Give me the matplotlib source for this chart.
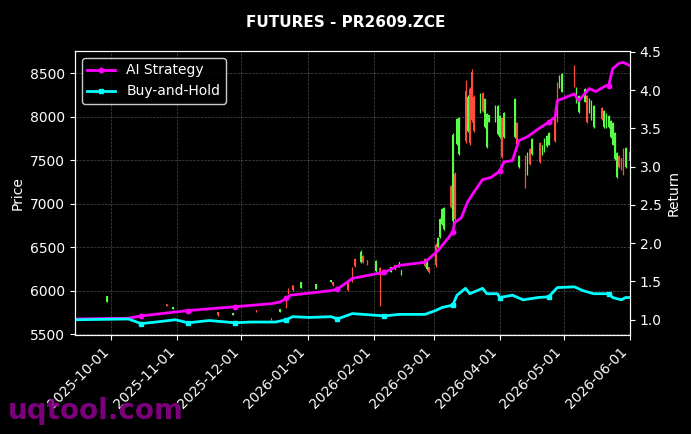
import matplotlib
matplotlib.use("Agg")
import matplotlib.pyplot as plt
import matplotlib.dates as mdates
import pandas as pd

# daily candles (only the days that show on the chart)
candle_dates = [
    "2025-09-29", "2025-10-27", "2025-10-30", "2025-11-20", "2025-11-27",
    "2025-12-08", "2025-12-15", "2025-12-19", "2025-12-22", "2025-12-23",
    "2025-12-25", "2025-12-29", "2026-01-05", "2026-01-12", "2026-01-13",
    "2026-01-20", "2026-01-22", "2026-01-23", "2026-01-26", "2026-01-27",
    "2026-01-29", "2026-02-02", "2026-02-04", "2026-02-05", "2026-02-09",
    "2026-02-11", "2026-02-13", "2026-02-14", "2026-02-25", "2026-02-26",
    "2026-02-27", "2026-03-02", "2026-03-03", "2026-03-04", "2026-03-05",
    "2026-03-06", "2026-03-09", "2026-03-10", "2026-03-11", "2026-03-12",
    "2026-03-13", "2026-03-16", "2026-03-17", "2026-03-18", "2026-03-19",
    "2026-03-20", "2026-03-23", "2026-03-24", "2026-03-25", "2026-03-26",
    "2026-03-27", "2026-03-30", "2026-03-31", "2026-04-01", "2026-04-02",
    "2026-04-03", "2026-04-08", "2026-04-09", "2026-04-10", "2026-04-13",
    "2026-04-14", "2026-04-15", "2026-04-16", "2026-04-20", "2026-04-21",
    "2026-04-22", "2026-04-23", "2026-04-24", "2026-04-27", "2026-04-28",
    "2026-04-29", "2026-04-30", "2026-05-06", "2026-05-07", "2026-05-08",
    "2026-05-11", "2026-05-12", "2026-05-13", "2026-05-14", "2026-05-15",
    "2026-05-19", "2026-05-20", "2026-05-21", "2026-05-22", "2026-05-23",
    "2026-05-24", "2026-05-25", "2026-05-26", "2026-05-27", "2026-05-28",
    "2026-05-29", "2026-05-30", "2026-06-01",
]
candle_open = [
    5875, 5845, 5795, 5750, 5725, 5777, 5685, 5760, 5880, 6025,
    6060, 6035, 6025, 6103, 6098, 6090, 6265, 6370, 6330, 6400,
    6350, 6225, 6260, 6235, 6220, 6292, 6278, 6185, 6370, 6245,
    6268, 6530, 6500, 6615, 6765, 6710, 7200, 6800, 7340, 7690,
    7575, 8300, 7840, 8320, 8520, 8230, 8050, 8270, 7880, 7650,
    7945, 7950, 7800, 7765, 7980, 7765, 7765, 7930, 7420, 7550,
    7340, 7630, 7570, 7700, 7565, 7600, 7660, 7680, 8000, 8380,
    8335, 8290, 8580, 8165, 8050, 8175, 8240, 8050, 7970, 7880,
    8100, 7880, 7880, 7880, 7765, 7680, 7510, 7305, 7550, 7520,
    7630, 7420, 7600,
]
candle_high = [
    5940, 5850, 5814, 5756, 5745, 5779, 5687, 5790, 5894, 6032,
    6066, 6101, 6078, 6124, 6101, 6101, 6273, 6377, 6469, 6411,
    6354, 6354, 6273, 6239, 6273, 6296, 6331, 6239, 6377, 6354,
    6273, 6549, 6618, 6836, 6951, 6963, 7215, 7812, 7364, 7985,
    7996, 8422, 8250, 8342, 8548, 8250, 8273, 8284, 8215, 8043,
    8020, 8135, 8135, 8020, 7996, 8054, 8215, 7939, 7560, 7560,
    7595, 7641, 7755, 7710, 7675, 7755, 7790, 7825, 8020, 8399,
    8479, 8503, 8594, 8342, 8250, 8330, 8250, 8215, 8192, 8135,
    8112, 8077, 8043, 8020, 7962, 7939, 7824, 7595, 7560, 7530,
    7641, 7652, 7620,
]
candle_low = [
    5870, 5822, 5791, 5710, 5722, 5756, 5664, 5756, 5802, 5963,
    5998, 6032, 6020, 6101, 6055, 5998, 6101, 6273, 6319, 6319,
    6296, 6216, 5825, 6181, 6216, 6239, 6273, 6181, 6273, 6239,
    6204, 6273, 6492, 6607, 6756, 6698, 6951, 6720, 6790, 7675,
    7560, 7698, 7825, 7675, 7939, 7825, 8043, 8054, 7870, 7640,
    7939, 7939, 7790, 7755, 7525, 7755, 7755, 7675, 7411, 7181,
    7330, 7445, 7560, 7468, 7560, 7595, 7652, 7675, 7710, 7939,
    8330, 8284, 8342, 8158, 8043, 8169, 7927, 8043, 7962, 7870,
    7962, 7870, 7870, 7870, 7755, 7675, 7502, 7296, 7411, 7390,
    7330, 7411, 7480,
]
candle_close = [
    5935, 5828, 5810, 5720, 5742, 5760, 5668, 5787, 5810, 5970,
    6005, 6095, 6072, 6122, 6060, 6010, 6110, 6280, 6450, 6330,
    6300, 6345, 6180, 6185, 6268, 6245, 6325, 6235, 6280, 6348,
    6210, 6290, 6610, 6825, 6940, 6950, 6965, 7790, 6820, 7970,
    7980, 7720, 8230, 7700, 7960, 7840, 8265, 8065, 8200, 8030,
    8015, 8125, 8120, 8010, 7540, 8045, 8200, 7690, 7550, 7250,
    7585, 7455, 7745, 7480, 7670, 7745, 7780, 7815, 7725, 7960,
    8470, 8495, 8350, 8335, 8240, 8320, 7940, 8205, 8180, 8125,
    7975, 8065, 8035, 8010, 7950, 7925, 7810, 7585, 7420, 7400,
    7345, 7640, 7495,
]

# cumulative returns (right axis)
ai_dates = [
    "2025-09-15", "2025-10-09", "2025-10-15", "2025-11-06", "2025-11-28",
    "2025-12-15", "2025-12-19", "2025-12-22", "2025-12-24", "2026-01-12",
    "2026-01-15", "2026-01-22", "2026-02-06", "2026-02-13", "2026-02-25",
    "2026-03-03", "2026-03-08", "2026-03-10", "2026-03-11", "2026-03-14",
    "2026-03-17", "2026-03-20", "2026-03-24", "2026-03-28", "2026-04-01",
    "2026-04-03", "2026-04-07", "2026-04-10", "2026-04-14", "2026-04-19",
    "2026-04-24", "2026-04-27", "2026-04-28", "2026-05-06", "2026-05-08",
    "2026-05-13", "2026-05-16", "2026-05-21", "2026-05-22", "2026-05-24",
    "2026-05-27", "2026-05-29", "2026-06-01",
]
ai_values = [
    1.01, 1.02, 1.05, 1.12, 1.17, 1.21, 1.23, 1.28, 1.32, 1.38,
    1.40, 1.54, 1.62, 1.71, 1.75, 1.90, 2.07, 2.15, 2.27, 2.33,
    2.54, 2.67, 2.83, 2.86, 2.94, 3.06, 3.08, 3.34, 3.39, 3.49,
    3.58, 3.65, 3.86, 3.95, 3.86, 4.02, 3.98, 4.06, 4.05, 4.28,
    4.35, 4.36, 4.32,
]
bh_dates = [
    "2025-09-15", "2025-10-09", "2025-10-15", "2025-10-22", "2025-10-31",
    "2025-11-06", "2025-11-16", "2025-11-28", "2025-12-05", "2025-12-17",
    "2025-12-22", "2025-12-25", "2026-01-02", "2026-01-12", "2026-01-15",
    "2026-01-22", "2026-02-06", "2026-02-13", "2026-02-25", "2026-03-02",
    "2026-03-05", "2026-03-10", "2026-03-12", "2026-03-16", "2026-03-18",
    "2026-03-24", "2026-03-26", "2026-03-31", "2026-04-01", "2026-04-07",
    "2026-04-12", "2026-04-19", "2026-04-24", "2026-04-28", "2026-05-06",
    "2026-05-10", "2026-05-15", "2026-05-22", "2026-05-24", "2026-05-28",
    "2026-05-30", "2026-06-01",
]
bh_values = [
    1.00, 1.01, 0.95, 0.97, 1.00, 0.96, 0.99, 0.96, 0.97, 0.97,
    1.00, 1.04, 1.03, 1.04, 1.01, 1.08, 1.05, 1.07, 1.07, 1.12,
    1.16, 1.19, 1.32, 1.41, 1.34, 1.41, 1.34, 1.34, 1.29, 1.32,
    1.26, 1.29, 1.30, 1.42, 1.43, 1.38, 1.34, 1.34, 1.29, 1.26,
    1.29, 1.29,
]
marker_dates = [
    "2025-10-15", "2025-11-06", "2025-11-28", "2025-12-22", "2026-01-15",
    "2026-02-06", "2026-03-10", "2026-04-01", "2026-04-24", "2026-05-22",
]

up_color = "#55ff44"
down_color = "#ff4d3d"

fig = plt.figure(figsize=(6.91, 4.34), dpi=100, facecolor="black")
ax = fig.add_axes([0.1085, 0.228, 0.803, 0.6545], facecolor="black")

cd = pd.to_datetime(candle_dates)
for d, o, h, l, c in zip(cd, candle_open, candle_high, candle_low, candle_close):
    col = up_color if c >= o else down_color
    ax.vlines(d, l, h, color=col, linewidth=0.9)
    ax.bar(d, abs(c - o), bottom=min(o, c), width=0.7, color=col, linewidth=0)

ax.set_ylim(5490, 8756)
ax.set_ylabel("Price", color="white")
ax.grid(True, color="gray", linestyle="--", linewidth=0.5, alpha=0.6)

ax2 = ax.twinx()
ai_d = pd.to_datetime(ai_dates)
bh_d = pd.to_datetime(bh_dates)
ai_marks = [ai_dates.index(m) for m in marker_dates]
bh_marks = [bh_dates.index(m) for m in marker_dates]
ax2.plot(ai_d, ai_values, color="#ff00ff", linewidth=2, marker="o",
         markersize=3.2, markevery=ai_marks, label="AI Strategy")
ax2.plot(bh_d, bh_values, color="#00ffff", linewidth=2, marker="s",
         markersize=3.2, markevery=bh_marks, label="Buy-and-Hold")
ax2.set_ylim(0.80, 4.51)
ax2.set_yticks([1.0, 1.5, 2.0, 2.5, 3.0, 3.5, 4.0, 4.5])
ax2.set_ylabel("Return", color="white")

ax.set_xlim(pd.Timestamp("2025-09-14"), pd.Timestamp("2026-06-01"))
ax.xaxis.set_major_locator(mdates.MonthLocator())
ax.xaxis.set_major_formatter(mdates.DateFormatter("%Y-%m-%d"))
plt.setp(ax.get_xticklabels(), rotation=45, ha="right")

for a in (ax, ax2):
    a.tick_params(colors="white")
    for s in a.spines.values():
        s.set_color("white")

leg = ax2.legend(loc="upper left", facecolor="black", edgecolor="white")
for t in leg.get_texts():
    t.set_color("white")

fig.suptitle("FUTURES - PR2609.ZCE", color="white", fontweight="bold",
             fontsize=11, y=0.965)
fig.text(0.012, 0.035, "uqtool.com", color="#8b008b", fontsize=20,
         fontweight="bold", alpha=0.9)

fig.savefig("out.png", dpi=100, facecolor="black")
